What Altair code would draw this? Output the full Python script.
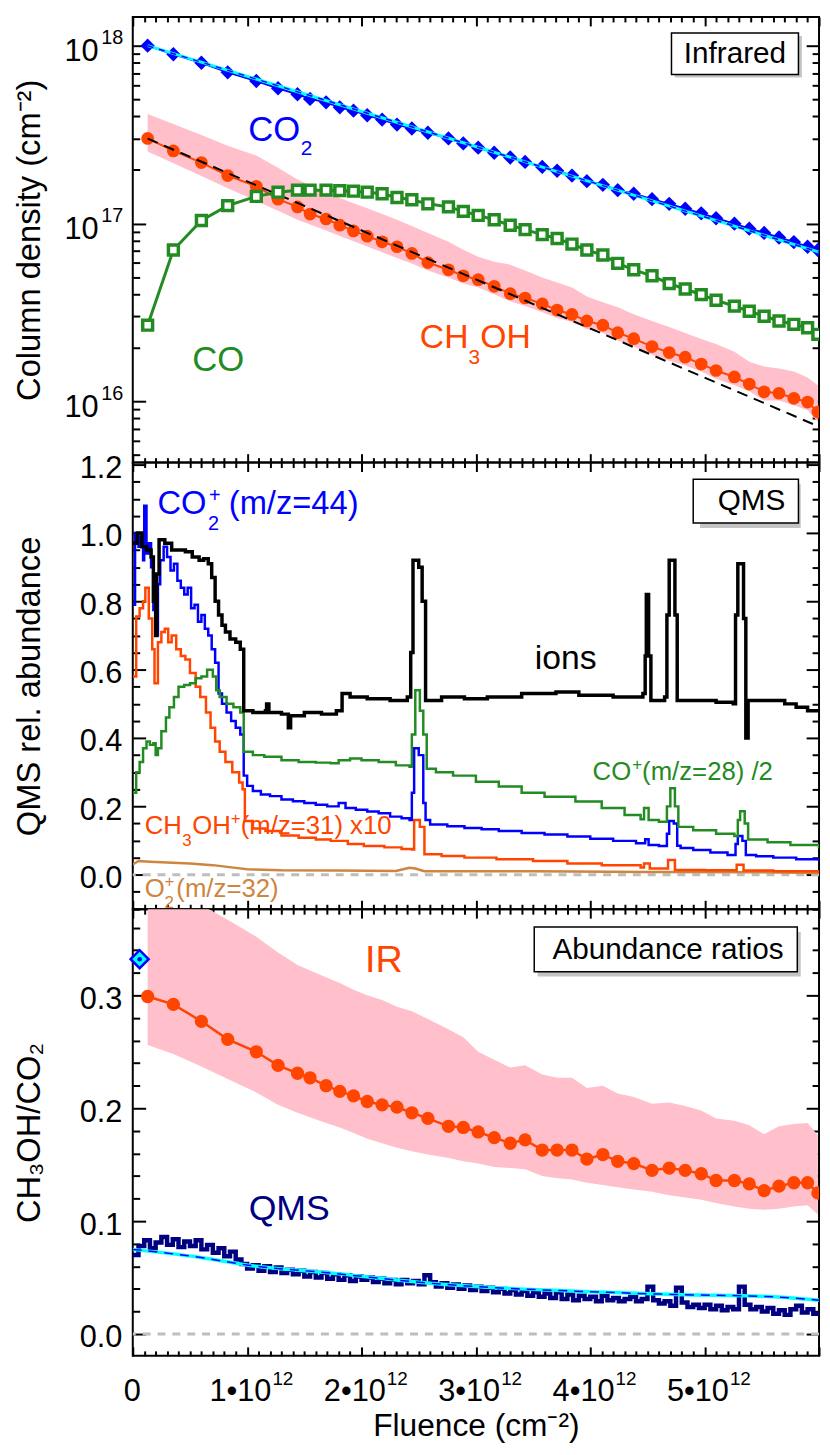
import altair as alt
import pandas as pd

FONT = "Liberation Sans"
BLUE = "#0000ff"; CYAN = "#00ffff"; GREEN = "#228b22"; ORANGE = "#ff4500"
PINK = "#ffc0cb"; TAN = "#cd853f"; NAVY = "#000080"; GRAY = "#bebebe"

# ---------------- tick values ----------------
x_major = [0, 1, 2, 3, 4, 5, 6]
x_labelled = [1, 2, 3, 4, 5]
x_minor = [i / 10 for i in range(1, 60) if i % 10]
p1_major = [1e16, 1e17, 1e18]
p1_minor = [5e15, 6e15, 7e15, 8e15, 9e15] + [k * 1e16 for k in range(2, 10)] + [k * 1e17 for k in range(2, 10)]
p2_major = [0.0, 0.2, 0.4, 0.6, 0.8, 1.0, 1.2]
p2_minor = [v for v in [round(-0.1 + 0.05 * i, 2) for i in range(27)] if v not in p2_major]
p3_major = [0.0, 0.1, 0.2, 0.3]
p3_minor = [round(0.02 * i, 2) for i in range(1, 19) if i % 5]

# ---------------- IR data (fluence in 1e12 cm^-2) ----------------
ir_fluence = [0.13, 0.355, 0.60, 0.83, 1.08, 1.27, 1.44, 1.55, 1.69, 1.81, 1.93, 2.05, 2.18, 2.31,
              2.44, 2.58, 2.76, 2.89, 3.02, 3.16, 3.30, 3.43, 3.58, 3.71, 3.84, 3.97, 4.11, 4.24,
              4.38, 4.54, 4.69, 4.83, 4.97, 5.10, 5.26, 5.39, 5.52, 5.65, 5.78, 5.90, 5.99]
co2_col = [1.0e18, 8.95e17, 8.02e17, 7.08e17, 6.33e17, 5.76e17, 5.33e17, 5.02e17, 4.80e17, 4.50e17,
           4.31e17, 4.06e17, 3.84e17, 3.60e17, 3.42e17, 3.24e17, 3.01e17, 2.82e17, 2.67e17, 2.50e17,
           2.35e17, 2.22e17, 2.08e17, 1.98e17, 1.86e17, 1.73e17, 1.65e17, 1.54e17, 1.47e17, 1.37e17,
           1.29e17, 1.21e17, 1.14e17, 1.07e17, 9.98e16, 9.35e16, 8.85e16, 8.34e16, 7.86e16, 7.40e16, 7.09e16]
ch3oh_col = [3.01e17, 2.56e17, 2.20e17, 1.86e17, 1.62e17, 1.37e17, 1.24e17, 1.13e17, 1.06e17, 9.78e16,
             9.08e16, 8.49e16, 7.89e16, 7.40e16, 6.79e16, 6.03e16, 5.49e16, 5.08e16, 4.83e16, 4.43e16,
             4.03e16, 3.81e16, 3.53e16, 3.26e16, 3.08e16, 2.83e16, 2.68e16, 2.43e16, 2.25e16, 2.03e16,
             1.88e16, 1.77e16, 1.62e16, 1.49e16, 1.37e16, 1.25e16, 1.13e16, 1.11e16, 1.04e16, 9.9e15, 8.7e15]
ch3oh_hi = [4.13e17, 3.63e17, 3.15e17, 2.74e17, 2.41e17, 2.06e17, 1.77e17, 1.64e17, 1.50e17, 1.39e17,
            1.30e17, 1.22e17, 1.13e17, 1.05e17, 9.69e16, 8.85e16, 7.89e16, 7.12e16, 6.51e16, 6.10e16,
            5.87e16, 5.44e16, 4.97e16, 4.66e16, 4.37e16, 3.89e16, 3.61e16, 3.38e16, 3.09e16, 2.83e16,
            2.62e16, 2.42e16, 2.24e16, 2.10e16, 1.90e16, 1.67e16, 1.57e16, 1.53e16, 1.47e16, 1.36e16, 1.23e16]
ch3oh_lo = [2.54e17, 2.18e17, 1.85e17, 1.58e17, 1.34e17, 1.18e17, 1.05e17, 9.86e16, 9.12e16, 8.51e16,
            7.95e16, 7.42e16, 6.89e16, 6.40e16, 5.95e16, 5.44e16, 4.97e16, 4.60e16, 4.37e16, 4.00e16,
            3.65e16, 3.43e16, 3.17e16, 2.94e16, 2.79e16, 2.55e16, 2.42e16, 2.19e16, 2.03e16, 1.83e16,
            1.69e16, 1.59e16, 1.47e16, 1.34e16, 1.23e16, 1.14e16, 1.01e16, 1.01e16, 9.50e15, 8.91e15, 7.64e15]
co_col = [2.68e16, 7.09e16, 1.04e17, 1.26e17, 1.42e17, 1.50e17, 1.54e17, 1.54e17, 1.54e17, 1.53e17,
          1.52e17, 1.50e17, 1.47e17, 1.40e17, 1.36e17, 1.29e17, 1.24e17, 1.17e17, 1.11e17, 1.05e17,
          9.77e16, 9.24e16, 8.66e16, 8.23e16, 7.66e16, 7.09e16, 6.65e16, 5.97e16, 5.49e16, 5.08e16,
          4.59e16, 4.28e16, 3.98e16, 3.70e16, 3.43e16, 3.21e16, 3.01e16, 2.83e16, 2.71e16, 2.59e16, 2.38e16]
co2_fit_f = [0.13, 6.0]
co2_fit_v = [1.0e18, 6.9e16]
ch3oh_fit_f = [0.13, 6.0]
ch3oh_fit_v = [3.0e17, 7.2e15]

# ---------------- QMS data ----------------
ions_f = [0.00, 0.04, 0.08, 0.12, 0.16, 0.18, 0.20, 0.21, 0.23, 0.28, 0.34, 0.46, 0.52, 0.58, 0.62,
          0.66, 0.69, 0.72, 0.75, 0.78, 0.81, 0.85, 0.90, 0.94, 0.97, 1.05, 1.16, 1.17, 1.19, 1.30,
          1.36, 1.38, 1.50, 1.65, 1.78, 1.83, 1.90, 2.05, 2.25, 2.40, 2.43, 2.45, 2.50, 2.53, 2.56,
          2.70, 2.90, 3.10, 3.40, 3.70, 3.90, 4.20, 4.46, 4.48, 4.49, 4.51, 4.53, 4.65, 4.67, 4.69,
          4.74, 4.76, 4.90, 5.10, 5.25, 5.27, 5.29, 5.34, 5.36, 5.38, 5.55, 5.70, 5.80, 5.90, 6.00]
ions_v = [0.97, 1.00, 0.96, 0.95, 0.93, 0.80, 0.70, 0.88, 0.98, 0.97, 0.95, 0.945, 0.93, 0.92, 0.925,
          0.91, 0.87, 0.80, 0.76, 0.73, 0.71, 0.69, 0.68, 0.66, 0.48, 0.475, 0.48, 0.50, 0.475, 0.47,
          0.43, 0.465, 0.475, 0.47, 0.48, 0.53, 0.52, 0.515, 0.51, 0.52, 0.65, 0.92, 0.90, 0.80, 0.51,
          0.52, 0.515, 0.52, 0.53, 0.535, 0.525, 0.52, 0.53, 0.64, 0.82, 0.64, 0.51, 0.52, 0.76, 0.92,
          0.76, 0.51, 0.51, 0.505, 0.50, 0.76, 0.91, 0.75, 0.40, 0.51, 0.51, 0.50, 0.49, 0.48, 0.475]
co2q_f = [0.00, 0.02, 0.05, 0.07, 0.09, 0.10, 0.12, 0.14, 0.16, 0.18, 0.20, 0.22, 0.24, 0.27, 0.30,
          0.33, 0.36, 0.39, 0.42, 0.45, 0.48, 0.51, 0.54, 0.57, 0.60, 0.63, 0.66, 0.69, 0.72, 0.75,
          0.78, 0.82, 0.86, 0.90, 0.94, 0.97, 1.00, 1.05, 1.12, 1.20, 1.30, 1.40, 1.50, 1.60, 1.70,
          1.80, 1.86, 1.95, 2.05, 2.15, 2.25, 2.35, 2.42, 2.44, 2.46, 2.50, 2.54, 2.56, 2.60, 2.75,
          2.90, 3.05, 3.20, 3.40, 3.60, 3.80, 4.00, 4.20, 4.40, 4.48, 4.51, 4.60, 4.67, 4.69, 4.73,
          4.76, 4.79, 4.90, 5.05, 5.20, 5.27, 5.29, 5.33, 5.36, 5.45, 5.60, 5.80, 6.00]
co2q_v = [0.79, 1.00, 0.96, 0.99, 0.92, 1.08, 0.94, 0.97, 0.90, 0.775, 0.70, 0.85, 0.92, 0.96, 0.93,
          0.89, 0.91, 0.86, 0.84, 0.82, 0.84, 0.78, 0.79, 0.74, 0.76, 0.72, 0.70, 0.66, 0.62, 0.53,
          0.50, 0.475, 0.45, 0.43, 0.41, 0.29, 0.26, 0.245, 0.235, 0.23, 0.22, 0.215, 0.21, 0.205, 0.20,
          0.21, 0.195, 0.19, 0.185, 0.18, 0.17, 0.165, 0.16, 0.24, 0.37, 0.35, 0.21, 0.16, 0.147, 0.142,
          0.137, 0.133, 0.128, 0.122, 0.118, 0.112, 0.105, 0.099, 0.092, 0.104, 0.087, 0.084, 0.120, 0.157, 0.150,
          0.085, 0.078, 0.072, 0.065, 0.058, 0.090, 0.113, 0.099, 0.058, 0.054, 0.050, 0.045, 0.040]
coq_f = [0.00, 0.03, 0.06, 0.09, 0.12, 0.15, 0.18, 0.20, 0.22, 0.25, 0.29, 0.32, 0.36, 0.40, 0.45,
         0.50, 0.55, 0.60, 0.65, 0.70, 0.73, 0.76, 0.82, 0.88, 0.94, 0.97, 1.05, 1.15, 1.30, 1.45,
         1.60, 1.73, 1.80, 1.90, 2.00, 2.15, 2.30, 2.42, 2.44, 2.47, 2.51, 2.54, 2.57, 2.65, 2.80,
         3.00, 3.20, 3.40, 3.60, 3.87, 4.10, 4.30, 4.44, 4.47, 4.51, 4.60, 4.67, 4.70, 4.74, 4.77,
         4.90, 5.10, 5.26, 5.29, 5.31, 5.35, 5.38, 5.55, 5.75, 6.00]
coq_v = [0.24, 0.30, 0.33, 0.37, 0.39, 0.38, 0.385, 0.35, 0.37, 0.42, 0.46, 0.49, 0.52, 0.55, 0.555,
         0.56, 0.575, 0.58, 0.60, 0.58, 0.54, 0.52, 0.50, 0.49, 0.475, 0.36, 0.35, 0.345, 0.335, 0.33,
         0.328, 0.326, 0.335, 0.34, 0.335, 0.33, 0.32, 0.316, 0.41, 0.54, 0.48, 0.41, 0.31, 0.30, 0.29,
         0.272, 0.258, 0.24, 0.228, 0.214, 0.195, 0.175, 0.162, 0.195, 0.16, 0.155, 0.20, 0.253, 0.20, 0.14,
         0.13, 0.12, 0.113, 0.16, 0.186, 0.15, 0.103, 0.095, 0.087, 0.077]
meq_f = [0.00, 0.03, 0.06, 0.09, 0.11, 0.14, 0.17, 0.19, 0.22, 0.25, 0.28, 0.31, 0.34, 0.38, 0.42,
         0.46, 0.50, 0.55, 0.59, 0.64, 0.68, 0.72, 0.76, 0.81, 0.87, 0.93, 0.96, 0.98, 1.05, 1.16,
         1.30, 1.45, 1.60, 1.73, 1.88, 2.02, 2.20, 2.35, 2.44, 2.46, 2.51, 2.55, 2.70, 2.90, 3.18,
         3.50, 3.80, 4.10, 4.44, 4.47, 4.52, 4.68, 4.74, 5.00, 5.28, 5.34, 5.60, 6.00]
meq_v = [0.58, 0.756, 0.78, 0.80, 0.84, 0.75, 0.66, 0.56, 0.68, 0.71, 0.72, 0.68, 0.70, 0.66, 0.64,
         0.63, 0.59, 0.55, 0.52, 0.475, 0.43, 0.39, 0.36, 0.33, 0.30, 0.27, 0.25, 0.157, 0.135, 0.128,
         0.115, 0.108, 0.103, 0.099, 0.09, 0.084, 0.08, 0.075, 0.074, 0.16, 0.14, 0.06, 0.055, 0.05, 0.045,
         0.04, 0.033, 0.028, 0.021, 0.033, 0.018, 0.043, 0.014, 0.013, 0.029, 0.012, 0.01, 0.005]
o2q_f = [0.00, 0.05, 0.15, 0.30, 0.50, 0.70, 0.90, 1.00, 1.30, 1.80, 2.30, 2.42, 2.47, 2.55, 3.50, 4.50, 5.50, 6.00]
o2q_v = [0.03, 0.04, 0.038, 0.036, 0.033, 0.028, 0.02, 0.016, 0.013, 0.012, 0.011, 0.02, 0.018, 0.01, 0.01, 0.008, 0.007, 0.005]

# ---------------- ratio data ----------------
ir_ratio = [0.299, 0.292, 0.277, 0.261, 0.250, 0.238, 0.231, 0.227, 0.220, 0.215, 0.211, 0.206, 0.203, 0.201,
            0.196, 0.191, 0.184, 0.183, 0.179, 0.174, 0.169, 0.172, 0.163, 0.163, 0.163, 0.155, 0.159, 0.153,
            0.151, 0.145, 0.147, 0.145, 0.142, 0.136, 0.136, 0.133, 0.127, 0.131, 0.134, 0.134, 0.125]
ir_ratio_hi = [0.42, 0.40, 0.38, 0.367, 0.352, 0.338, 0.327, 0.322, 0.316, 0.311, 0.305, 0.300, 0.296, 0.290,
               0.286, 0.279, 0.270, 0.263, 0.250, 0.243, 0.236, 0.238, 0.230, 0.227, 0.227, 0.218, 0.220, 0.213,
               0.210, 0.204, 0.205, 0.202, 0.198, 0.191, 0.189, 0.185, 0.177, 0.184, 0.186, 0.187, 0.176]
ir_ratio_lo = [0.256, 0.248, 0.237, 0.226, 0.214, 0.203, 0.196, 0.192, 0.187, 0.183, 0.178, 0.173, 0.169, 0.165,
               0.162, 0.159, 0.156, 0.153, 0.151, 0.148, 0.147, 0.146, 0.140, 0.138, 0.137, 0.134, 0.132, 0.130,
               0.128, 0.126, 0.123, 0.121, 0.119, 0.116, 0.113, 0.111, 0.110, 0.111, 0.113, 0.114, 0.106]
qms_f = [0.00, 0.05, 0.10, 0.15, 0.20, 0.25, 0.30, 0.35, 0.40, 0.45, 0.50, 0.55, 0.60, 0.65, 0.70, 0.75,
         0.80, 0.85, 0.90, 0.95, 1.00, 1.05, 1.10, 1.15, 1.20, 1.25, 1.30, 1.35, 1.40, 1.45, 1.50, 1.55,
         1.60, 1.65, 1.70, 1.75, 1.80, 1.85, 1.90, 1.95, 2.00, 2.05, 2.10, 2.15, 2.20, 2.25, 2.30, 2.35,
         2.40, 2.45, 2.50, 2.55, 2.60, 2.65, 2.70, 2.75, 2.80, 2.85, 2.90, 2.95, 3.00, 3.05, 3.10, 3.15,
         3.20, 3.25, 3.30, 3.35, 3.40, 3.45, 3.50, 3.55, 3.60, 3.65, 3.70, 3.75, 3.80, 3.85, 3.90, 3.95,
         4.00, 4.05, 4.10, 4.15, 4.20, 4.25, 4.30, 4.35, 4.40, 4.45, 4.50, 4.55, 4.60, 4.65, 4.70, 4.75,
         4.80, 4.85, 4.90, 4.95, 5.00, 5.05, 5.10, 5.15, 5.20, 5.25, 5.30, 5.35, 5.40, 5.45, 5.50, 5.55,
         5.60, 5.65, 5.70, 5.75, 5.80, 5.85, 5.90, 5.95, 6.00]
qms_ratio = [0.070, 0.078, 0.083, 0.076, 0.081, 0.086, 0.079, 0.084, 0.077, 0.082, 0.078, 0.083, 0.075, 0.079,
             0.072, 0.076, 0.069, 0.073, 0.066, 0.062, 0.058, 0.061, 0.056, 0.060, 0.055, 0.059, 0.054, 0.057,
             0.053, 0.056, 0.051, 0.055, 0.050, 0.054, 0.049, 0.053, 0.048, 0.052, 0.047, 0.051, 0.048, 0.050,
             0.046, 0.049, 0.045, 0.048, 0.044, 0.048, 0.045, 0.047, 0.044, 0.052, 0.046, 0.042, 0.045, 0.041,
             0.044, 0.040, 0.043, 0.039, 0.042, 0.038, 0.041, 0.037, 0.040, 0.036, 0.039, 0.035, 0.038, 0.034,
             0.037, 0.033, 0.036, 0.032, 0.037, 0.031, 0.035, 0.030, 0.034, 0.031, 0.033, 0.029, 0.034, 0.030,
             0.032, 0.029, 0.031, 0.033, 0.029, 0.031, 0.042, 0.030, 0.027, 0.029, 0.025, 0.041, 0.028, 0.024,
             0.026, 0.023, 0.026, 0.022, 0.025, 0.021, 0.024, 0.022, 0.042, 0.026, 0.022, 0.024, 0.020, 0.023,
             0.018, 0.021, 0.017, 0.022, 0.025, 0.019, 0.022, 0.018, 0.019]
qms_fit_f = [0.0, 0.58, 1.01, 1.73, 2.60, 3.18, 3.87, 4.74, 5.60, 6.00]
qms_fit_v = [0.075, 0.068, 0.061, 0.054, 0.045, 0.041, 0.038, 0.035, 0.033, 0.030]
initial_ratio_f = [0.06]
initial_ratio_v = [0.332]

# ---------------- tables ----------------
ir = pd.DataFrame({"f": ir_fluence, "co2": co2_col, "ch3oh": ch3oh_col, "hi": ch3oh_hi, "lo": ch3oh_lo,
                   "co": co_col, "r": ir_ratio, "rhi": ir_ratio_hi, "rlo": ir_ratio_lo})
fit_co2 = pd.DataFrame({"f": co2_fit_f, "v": co2_fit_v})
fit_me = pd.DataFrame({"f": ch3oh_fit_f, "v": ch3oh_fit_v})
ions = pd.DataFrame({"f": ions_f, "v": ions_v})
co2q = pd.DataFrame({"f": co2q_f, "v": co2q_v})
coq = pd.DataFrame({"f": coq_f, "v": coq_v})
meq = pd.DataFrame({"f": meq_f, "v": meq_v})
o2q = pd.DataFrame({"f": o2q_f, "v": o2q_v})
qms = pd.DataFrame({"f": qms_f, "v": qms_ratio})
qfit = pd.DataFrame({"f": qms_fit_f, "v": qms_fit_v})
init = pd.DataFrame({"f": initial_ratio_f, "v": initial_ratio_v})
zero = pd.DataFrame({"v": [0.0]})

# ---------------- scales ----------------
xs = alt.Scale(domain=[0, 6], nice=False, zero=False)
ys1 = alt.Scale(type="log", domain=[4.52e15, 1.45e18], nice=False)
ys2 = alt.Scale(domain=[-0.101, 1.206], nice=False, zero=False)
ys3 = alt.Scale(domain=[-0.0193, 0.3763], nice=False, zero=False)
W = 693


def X(field="f"):
    return alt.X(field, type="quantitative", scale=xs, axis=None)


def Y(field, ys):
    return alt.Y(field, type="quantitative", scale=ys, axis=None)


def tick_axis(orient, values, size, **kw):
    d = dict(orient=orient, values=values, offset=-size, tickSize=size, tickWidth=2, tickColor="black",
             domain=False, grid=False, labels=False, title=None, minExtent=0, maxExtent=0)
    d.update(kw)
    return alt.Axis(**d)


def label_axis(orient, values, size, pad, **kw):
    d = dict(orient=orient, values=values, offset=0, ticks=False, tickSize=0, domain=False, grid=False,
             labels=True, labelFont=FONT, labelFontSize=size, labelColor="black", labelPadding=pad,
             labelFlush=False, labelOverlap=False, title=None, minExtent=0, maxExtent=200)
    d.update(kw)
    return alt.Axis(**d)


def left_axis(values, title, label_expr=None, fmt=None, pad=11, offset=4):
    kw = dict(labels=True, labelFont=FONT, labelFontSize=31, labelColor="black", labelPadding=pad,
              labelOffset=offset, labelFlush=False, labelOverlap=False, title=title, titleFont=FONT,
              titleFontSize=33, titleFontWeight="normal", titleColor="black", titlePadding=10,
              minExtent=90, maxExtent=90)
    if label_expr:
        kw["labelExpr"] = label_expr
    if fmt:
        kw["format"] = fmt
    return tick_axis("left", values, 13, **kw)


def carriers(df, yf, ys, y_major, y_minor, left, extra=()):
    def mk(ax_x, ax_y):
        return alt.Chart(df).mark_point(opacity=0, size=1, clip=True).encode(
            x=alt.X("f", type="quantitative", scale=xs, axis=ax_x),
            y=alt.Y(yf, type="quantitative", scale=ys, axis=ax_y))
    pairs = [
        (tick_axis("bottom", x_major, 9), left),
        (tick_axis("bottom", x_minor, 5), tick_axis("left", y_minor, 7)),
        (tick_axis("top", x_major, 9), tick_axis("right", y_major, 13)),
        (tick_axis("top", x_minor, 5), tick_axis("right", y_minor, 7)),
    ] + list(extra)
    return [mk(a, b) for a, b in pairs]


def seg_text(x, y, ys, segs, color):
    d = pd.DataFrame({"x": [x], "y": [y]})
    out = []
    for txt, size, dx, dy in segs:
        out.append(alt.Chart(d).mark_text(text=txt, font=FONT, fontSize=size, dx=dx, dy=dy, align="left",
                                          baseline="alphabetic", color=color)
                   .encode(x=X("x"), y=Y("y", ys)))
    return out


def boxed(x1, x2, y1, y2, sh, label, tx, ty, ys, size=30):
    d = pd.DataFrame({"x1": [x1], "x2": [x2], "y1": [y1], "y2": [y2]})
    s = pd.DataFrame({"x1": [sh[0]], "x2": [sh[1]], "y1": [sh[2]], "y2": [sh[3]]})
    t = pd.DataFrame({"x": [tx], "y": [ty]})
    return [
        alt.Chart(s).mark_rect(color="#c4c4c4").encode(x=X("x1"), x2="x2", y=Y("y1", ys), y2="y2"),
        alt.Chart(d).mark_rect(fill="white", stroke="black", strokeWidth=1.5).encode(
            x=X("x1"), x2="x2", y=Y("y1", ys), y2="y2"),
        alt.Chart(t).mark_text(text=label, font=FONT, fontSize=size, align="center", baseline="middle",
                               color="black").encode(x=X("x"), y=Y("y", ys)),
    ]


# ---------------- panel 1 : infrared ----------------
p1_layers = [
    alt.Chart(ir).mark_area(color=PINK, clip=True).encode(x=X(), y=Y("hi", ys1), y2="lo"),
    alt.Chart(ir).mark_line(color=BLUE, strokeWidth=2, clip=True).encode(x=X(), y=Y("co2", ys1)),
    alt.Chart(ir).mark_point(shape="diamond", filled=True, color=BLUE, size=210, opacity=1, clip=True).encode(
        x=X(), y=Y("co2", ys1)),
    alt.Chart(fit_co2).mark_line(color=CYAN, strokeWidth=3, clip=True).encode(x=X(), y=Y("v", ys1)),
    alt.Chart(fit_co2).mark_line(color=BLUE, strokeWidth=1.5, strokeDash=[6, 6], clip=True).encode(
        x=X(), y=Y("v", ys1)),
    alt.Chart(ir).mark_line(color=ORANGE, strokeWidth=2, clip=True).encode(x=X(), y=Y("ch3oh", ys1)),
    alt.Chart(ir).mark_circle(color=ORANGE, size=165, opacity=1, clip=True).encode(x=X(), y=Y("ch3oh", ys1)),
    alt.Chart(fit_me).mark_line(color="black", strokeWidth=2, strokeDash=[11, 7], clip=True).encode(
        x=X(), y=Y("v", ys1)),
    alt.Chart(ir).mark_line(color=GREEN, strokeWidth=3, clip=True).encode(x=X(), y=Y("co", ys1)),
    alt.Chart(ir).mark_point(shape="square", filled=True, fill="white", stroke=GREEN, strokeWidth=3.5,
                             size=100, opacity=1, clip=True).encode(x=X(), y=Y("co", ys1)),
]
p1_layers += seg_text(1.01, 2.92e17, ys1, [("CO", 35, 0, 0), ("2", 21, 53, 14)], BLUE)
p1_layers += seg_text(0.52, 1.49e16, ys1, [("CO", 35, 0, 0)], GREEN)
p1_layers += seg_text(2.51, 2.0e16, ys1, [("CH", 34, 0, 0), ("3", 21, 49, 16), ("OH", 34, 61, 0)], ORANGE)
p1_layers += boxed(4.71, 5.82, 6.89e17, 1.18e18, (4.74, 5.85, 6.63e17, 1.135e18), "Infrared", 5.265, 9.0e17, ys1)
p1_sup = label_axis("left", p1_major, 20, 10, labelOffset=-8,
                    labelExpr="datum.value < 5e16 ? '16' : (datum.value < 5e17 ? '17' : '18')")
p1_layers += carriers(ir, "co2", ys1, p1_major, p1_minor,
                      left_axis(p1_major, "Column density (cm\u207b\u00b2)", label_expr="'10'", pad=35, offset=6),
                      extra=[(None, p1_sup)])
p1 = alt.layer(*p1_layers).resolve_axis(x="independent", y="independent").properties(width=W, height=450)

# ---------------- panel 2 : QMS ----------------
p2_layers = [
    alt.Chart(zero).mark_rule(color=GRAY, strokeWidth=3, strokeDash=[8, 7]).encode(y=Y("v", ys2)),
    alt.Chart(o2q).mark_line(color=TAN, strokeWidth=2.5, clip=True).encode(x=X(), y=Y("v", ys2)),
    alt.Chart(meq).mark_line(color=ORANGE, strokeWidth=2.5, interpolate="step-after", clip=True).encode(x=X(), y=Y("v", ys2)),
    alt.Chart(co2q).mark_line(color=BLUE, strokeWidth=2.5, interpolate="step-after", clip=True).encode(x=X(), y=Y("v", ys2)),
    alt.Chart(coq).mark_line(color=GREEN, strokeWidth=2.5, interpolate="step-after", clip=True).encode(x=X(), y=Y("v", ys2)),
    alt.Chart(ions).mark_line(color="black", strokeWidth=3.5, interpolate="step-after", clip=True).encode(x=X(), y=Y("v", ys2)),
]
p2_layers += seg_text(0.216, 1.055, ys2, [("CO", 33, 0, 0), ("2", 20, 51, 16), ("+", 20, 52, -12), ("(m/z=44)", 33, 72, 0)], BLUE)
p2_layers += seg_text(3.515, 0.603, ys2, [("ions", 34, 0, 0)], "black")
p2_layers += seg_text(4.02, 0.278, ys2, [("CO", 26, 0, 0), ("+", 17, 40, -10), ("(m/z=28) /2", 26, 50, 0)], GREEN)
p2_layers += seg_text(0.104, 0.12, ys2, [("CH", 26, 0, 0), ("3", 17, 38, 12), ("OH", 26, 48, 0), ("+", 17, 87, -10),
                                         ("(m/z=31) x10", 26, 97, 0)], ORANGE)
p2_layers += seg_text(0.104, -0.064, ys2, [("O", 26, 0, 0), ("2", 17, 20, 12), ("+", 17, 20, -10), ("(m/z=32)", 26, 32, 0)], TAN)
p2_layers += boxed(4.90, 5.82, 1.029, 1.157, (4.96, 5.84, 1.0145, 1.1425), "QMS", 5.41, 1.093, ys2)
p2_layers += carriers(ions, "v", ys2, p2_major, p2_minor, left_axis(p2_major, "QMS rel. abundance", fmt=".1f"))
p2 = alt.layer(*p2_layers).resolve_axis(x="independent", y="independent").properties(width=W, height=451)

# ---------------- panel 3 : ratios ----------------
x_main = label_axis("bottom", x_labelled, 31, 21, labelAlign="right", labelOffset=24,
                    labelExpr="datum.value + '\u202210'",
                    title="Fluence (cm\u207b\u00b2)", titleFont=FONT, titleFontSize=32, titleFontWeight="normal",
                    titleColor="black", titlePadding=2, minExtent=53, maxExtent=53)
x_sup = label_axis("bottom", x_labelled, 19, 14, labelAlign="left", labelOffset=25, labelExpr="'12'")
x_zero = label_axis("bottom", [0], 31, 21, labelAlign="center", labelOffset=-1, labelExpr="'0'")
p3_layers = [
    alt.Chart(zero).mark_rule(color=GRAY, strokeWidth=3, strokeDash=[8, 7]).encode(y=Y("v", ys3)),
    alt.Chart(ir).mark_area(color=PINK, clip=True).encode(x=X(), y=Y("rhi", ys3), y2="rlo"),
    alt.Chart(ir).mark_line(color=ORANGE, strokeWidth=2.5, clip=True).encode(x=X(), y=Y("r", ys3)),
    alt.Chart(ir).mark_circle(color=ORANGE, size=180, opacity=1, clip=True).encode(x=X(), y=Y("r", ys3)),
    alt.Chart(qms).mark_line(color=NAVY, strokeWidth=4.5, interpolate="step-after", clip=True).encode(x=X(), y=Y("v", ys3)),
    alt.Chart(qfit).mark_line(color=CYAN, strokeWidth=3.5, interpolate="monotone", clip=True).encode(x=X(), y=Y("v", ys3)),
    alt.Chart(qfit).mark_line(color=BLUE, strokeWidth=1.5, strokeDash=[9, 7], interpolate="monotone", clip=True).encode(
        x=X(), y=Y("v", ys3)),
    alt.Chart(init).mark_point(shape="diamond", filled=True, fill=CYAN, stroke=BLUE, strokeWidth=2.5, size=330,
                               opacity=1).encode(x=X(), y=Y("v", ys3)),
    alt.Chart(init).mark_circle(color=BLUE, size=22, opacity=1).encode(x=X(), y=Y("v", ys3)),
]
p3_layers += seg_text(2.03, 0.321, ys3, [("IR", 38, 0, 0)], ORANGE)
p3_layers += seg_text(1.013, 0.101, ys3, [("QMS", 36, 0, 0)], NAVY)
p3_layers += boxed(3.51, 5.81, 0.321, 0.3605, (3.54, 5.84, 0.3166, 0.3561), "Abundance ratios", 4.68, 0.340, ys3)
p3_layers += carriers(ir, "r", ys3, p3_major, p3_minor,
                      left_axis(p3_major, "CH\u2083OH/CO\u2082", fmt=".1f"),
                      extra=[(x_main, None), (x_sup, None), (x_zero, None)])
p3 = alt.layer(*p3_layers).resolve_axis(x="independent", y="independent").properties(width=W, height=451)

chart = (alt.vconcat(p1, p2, p3, spacing=0, bounds="flush")
         .properties(padding={"left": 5, "top": 0, "right": 0, "bottom": 0})
         .configure(font=FONT, background="white")
         .configure_view(stroke="black", strokeWidth=2))

chart.save("out.html", embed_options={"renderer": "svg", "actions": False})
